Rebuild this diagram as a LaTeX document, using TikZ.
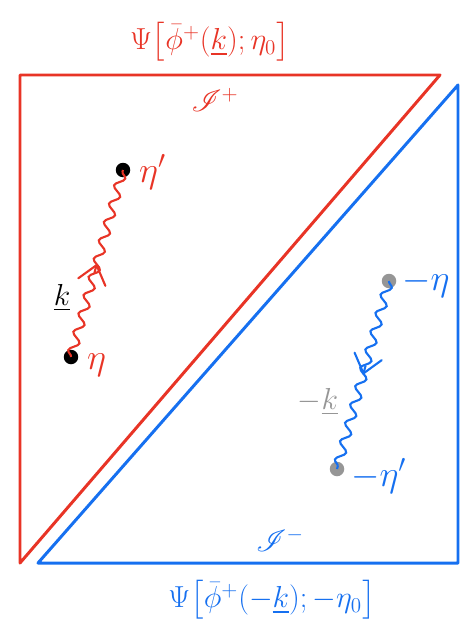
\documentclass[tikz,border=0pt]{standalone}
\usepackage{amsmath}
\usepackage{amssymb}
\usepackage{mathrsfs}
\usepackage{tikz}
\usetikzlibrary{arrows.meta, decorations.pathmorphing, calc}

\definecolor{scrired}{RGB}{232,52,38}
\definecolor{scriblue}{RGB}{22,112,240}
\definecolor{dotgray}{RGB}{150,150,150}

\begin{document}
\begin{tikzpicture}[x=0.02cm, y=-0.02cm, >=Stealth,
    edge/.style={line width=1.7pt, line join=round},
    dot/.style={circle, fill=#1, inner sep=0pt, minimum size=0.29cm},
    photon/.style={line width=1.2pt, decorate,
        decoration={snake, amplitude=0.9mm, segment length=3.8mm}},
    barb/.style={line width=1.2pt, -{Straight Barb[length=10pt, width=16pt, line cap=round]}},
    title/.style={font=\fontsize{18.5}{20}\selectfont, inner sep=1pt},
    lbl/.style={font=\huge}]
        \useasboundingbox (0,0) rectangle (463,632);

        % Corners
        \coordinate (rTL) at (20,75);
        \coordinate (rTR) at (440,75);
        \coordinate (rBL) at (20,563);
        \coordinate (bBL) at (38,563);
        \coordinate (bBR) at (458,563);
        \coordinate (bTR) at (458,85);

        % Upper triangle
        \draw[edge, scrired] (rBL) -- (rTL) -- (rTR) -- cycle;
        % Lower triangle
        \draw[edge, scriblue] (bBL) -- (bBR) -- (bTR) -- cycle;

        % Titles
        \node[title, scrired] (psiup) at (210,42) {$\Psi\big[\bar{\phi}^{+}(\underline{k});\eta_0\big]$};
        \node[scrired, font=\LARGE] (scriup) at (215,100) {$\mathscr{I}^{+}$};
        \node[scriblue, font=\LARGE] (scridn) at (280,540) {$\mathscr{I}^{-}$};
        \node[title, scriblue] (psidn) at (272,600) {$\Psi\big[\bar{\phi}^{+}(-\underline{k});-\eta_0\big]$};

        % Upper pair
        \node[dot=black] (etap) at (123,170) {};
        \node[dot=black] (eta) at (71,357) {};
        \node[lbl, scrired, anchor=west] (etaplbl) at (133,172) {$\eta'$};
        \node[lbl, scrired, anchor=west] (etalbl) at (81,365) {$\eta$};
        \node[font=\LARGE] (k) at (62,298) {$\underline{k}$};
        \draw[photon, scrired] (eta.center) -- (etap.center);
        \coordinate (upa) at ($(eta.center)!0.45!(etap.center)$);
        \coordinate (upb) at ($(eta.center)!0.50!(etap.center)$);
        \draw[barb, scrired] (upa) -- (upb);

        % Lower pair
        \node[dot=dotgray] (meta) at (389,281) {};
        \node[dot=dotgray] (metap) at (337,469) {};
        \node[lbl, scriblue, anchor=west] (metalbl) at (396,283) {$-\eta$};
        \node[lbl, scriblue, anchor=west] (metaplbl) at (345,476) {$-\eta'$};
        \node[font=\LARGE, dotgray] (mk) at (318,402) {$-\underline{k}$};
        \draw[photon, scriblue] (meta.center) -- (metap.center);
        \coordinate (dna) at ($(meta.center)!0.45!(metap.center)$);
        \coordinate (dnb) at ($(meta.center)!0.50!(metap.center)$);
        \draw[barb, scriblue] (dna) -- (dnb);
    \end{tikzpicture}
\end{document}
